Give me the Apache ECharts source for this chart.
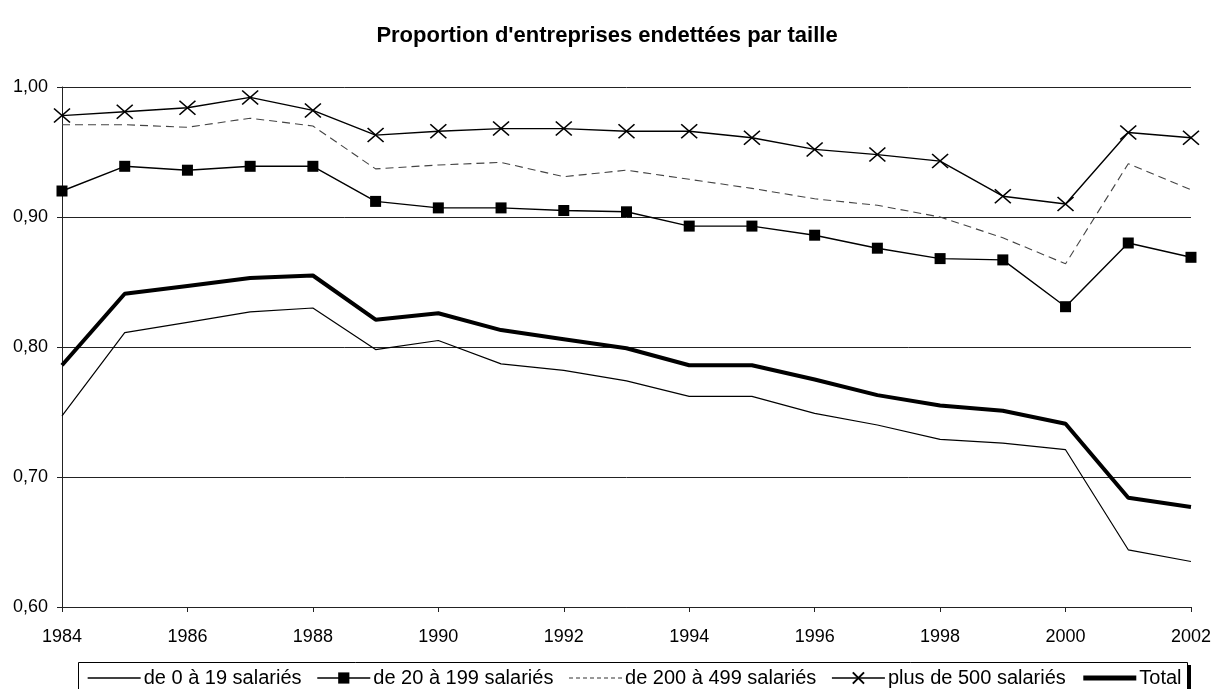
<!DOCTYPE html>
<html>
<head>
<meta charset="utf-8">
<script src="https://cdn.jsdelivr.net/npm/echarts@6/dist/echarts.min.js"></script>
<style>html,body{margin:0;padding:0;background:#fff}#c{width:1214px;height:689px}</style>
</head>
<body>
<div id="c"></div>
<script>
var years = [1984,1985,1986,1987,1988,1989,1990,1991,1992,1993,1994,1995,1996,1997,1998,1999,2000,2001,2002];
var s0_19 = [0.747,0.811,0.819,0.827,0.830,0.798,0.805,0.787,0.782,0.774,0.762,0.762,0.749,0.740,0.729,0.726,0.721,0.644,0.635];
var s20_199 = [0.920,0.939,0.936,0.939,0.939,0.912,0.907,0.907,0.905,0.904,0.893,0.893,0.886,0.876,0.868,0.867,0.831,0.880,0.869];
var s200_499 = [0.971,0.971,0.969,0.976,0.970,0.937,0.940,0.942,0.931,0.936,0.929,0.922,0.914,0.909,0.900,0.884,0.864,0.941,0.921];
var s500 = [0.978,0.981,0.984,0.992,0.982,0.963,0.966,0.968,0.968,0.966,0.966,0.961,0.952,0.948,0.943,0.916,0.910,0.965,0.961];
var sTotal = [0.786,0.841,0.847,0.853,0.855,0.821,0.826,0.813,0.806,0.799,0.786,0.786,0.775,0.763,0.755,0.751,0.741,0.684,0.677];
var names = ['de 0 à 19 salariés','de 20 à 199 salariés','de 200 à 499 salariés','plus de 500 salariés','Total'];

function pairs(arr){ return years.map(function(y,i){ return [y, arr[i]]; }); }

var chart = echarts.init(document.getElementById('c'), null, {renderer:'canvas'});
var font = 'Liberation Sans, Arial, sans-serif';
chart.setOption({
  animation:false,
  backgroundColor:'#fff',
  textStyle:{fontFamily:font},
  title:{text:"Proportion d'entreprises endettées par taille", left:'center', top:20,
    textStyle:{fontFamily:font, fontSize:22, fontWeight:'bold', color:'#000'}},
  grid:{left:62, right:23, top:87, bottom:82},
  graphic:[
    {type:'rect', z:-1, shape:{x:81, y:665, width:1110, height:60}, style:{fill:'#000'}, silent:true},
    {type:'rect', z:0, shape:{x:78.5, y:662.5, width:1109, height:60}, style:{fill:'#fff', stroke:'#000', lineWidth:1}, silent:true}
  ],
  legend:{
    left:87, top:668, itemWidth:53, itemHeight:14, itemGap:15,
    padding:0, z:10,
    textStyle:{fontFamily:font, fontSize:20, color:'#000', padding:[0,0,0,-2]},
    data:[
      {name:names[0], itemStyle:{opacity:0}, lineStyle:{width:1.3}},
      {name:names[1], lineStyle:{width:1.5}},
      {name:names[2], itemStyle:{opacity:0}, lineStyle:{width:1.2, type:[4,3], color:'#333'}},
      {name:names[3], lineStyle:{width:1.3}},
      {name:names[4], itemStyle:{opacity:0}, lineStyle:{width:5}}
    ]
  },
  xAxis:{type:'value', min:1984, max:2002, interval:2,
    axisLine:{lineStyle:{color:'#222', width:1}},
    axisTick:{show:true, length:5, lineStyle:{color:'#222'}},
    axisLabel:{color:'#000', fontSize:18, fontFamily:font, margin:21, formatter:function(v){return String(v);}},
    splitLine:{show:false}},
  yAxis:{type:'value', min:0.6, max:1.0, interval:0.1,
    axisLine:{show:true, lineStyle:{color:'#222', width:1}},
    axisTick:{show:true, length:5, lineStyle:{color:'#222'}},
    axisLabel:{color:'#000', fontSize:18, fontFamily:font, margin:14,
      formatter:function(v){return v.toFixed(2).replace('.', ',');}},
    splitLine:{show:true, lineStyle:{color:'#222', width:1}}},
  series:[
    {name:names[0], type:'line', data:pairs(s0_19), symbol:'none',
      lineStyle:{color:'#000', width:1.2}, itemStyle:{color:'#000'}},
    {name:names[1], type:'line', data:pairs(s20_199), symbol:'rect', symbolSize:11,
      lineStyle:{color:'#000', width:1.4}, itemStyle:{color:'#000'}},
    {name:names[2], type:'line', data:pairs(s200_499), symbol:'none',
      lineStyle:{color:'#444', width:1.1, type:[8,5]}, itemStyle:{color:'#444'}},
    {name:names[3], type:'line', data:pairs(s500), symbol:'path://M0,0L10,10M10,0L0,10', symbolSize:[16,14],
      lineStyle:{color:'#000', width:1.4}, itemStyle:{color:'rgba(0,0,0,0)', borderColor:'#000', borderWidth:1.5}},
    {name:names[4], type:'line', data:pairs(sTotal), symbol:'none',
      lineStyle:{color:'#000', width:4}, itemStyle:{color:'#000'}}
  ]
});
</script>
</body>
</html>
